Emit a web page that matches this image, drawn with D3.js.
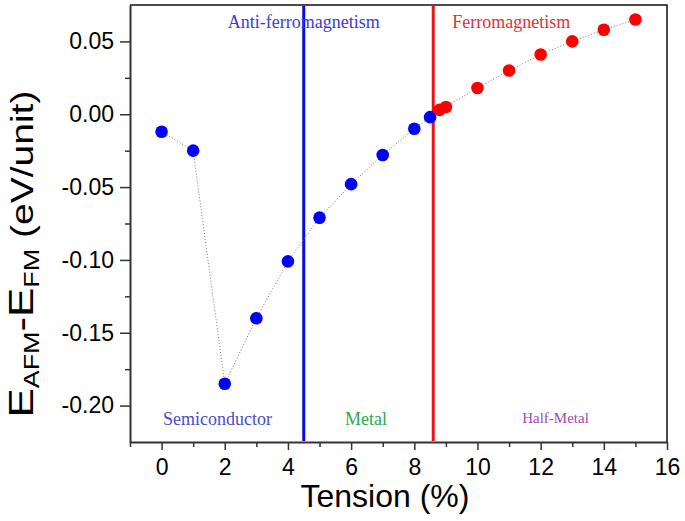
<!DOCTYPE html>
<html>
<head>
<meta charset="utf-8">
<script src="https://cdn.jsdelivr.net/npm/d3@7/dist/d3.min.js"></script>
<style>
  body { margin: 0; background: #fff; }
  svg { display: block; }
</style>
</head>
<body>
<svg id="chart" width="685" height="521"></svg>
<script>
// tension (%) and E_AFM - E_FM (eV/unit)
const afmTension = [0, 1, 2, 3, 4, 5, 6, 7, 8, 8.5];
const afmEnergy = [-0.012, -0.025, -0.185, -0.140, -0.101, -0.071, -0.048, -0.028, -0.010, -0.002];
const fmTension = [8.8, 9, 10, 11, 12, 13, 14, 15];
const fmEnergy = [0.003, 0.005, 0.018, 0.030, 0.041, 0.050, 0.058, 0.065];

// phase boundaries
const boundaries = [4.5, 8.6];

const xTicks = [0, 2, 4, 6, 8, 10, 12, 14, 16];
const yTicks = [-0.20, -0.15, -0.10, -0.05, 0.00, 0.05];

const width = 685;
const height = 521;
const margin = { top: 5, right: 18, bottom: 79, left: 130 };

const svg = d3.select('#chart');

const xScale = d3.scaleLinear()
  .domain([-1, 16])
  .range([margin.left, width - margin.right]);

const yScale = d3.scaleLinear()
  .domain([-0.225, 0.075])
  .range([height - margin.bottom, margin.top]);

const afm = afmTension.map((x, i) => ({ x, y: afmEnergy[i], color: '#0000ff' }));
const fm = fmTension.map((x, i) => ({ x, y: fmEnergy[i], color: '#ff0000' }));
const all = afm.concat(fm);

const fmt = (d) => d3.format('.2f')(d).replace('\u2212', '-');

// minor ticks
const xMinor = d3.range(-1, 16, 2);
const yMinor = d3.range(-0.175, 0.074, 0.05);

svg.append('g')
  .attr('transform', `translate(0,${height - margin.bottom})`)
  .call(d3.axisBottom(xScale).tickValues(xMinor).tickSize(5).tickFormat(''))
  .call((g) => g.select('.domain').remove())
  .call((g) => g.selectAll('line').attr('stroke', '#333').attr('stroke-width', 1.5));

svg.append('g')
  .attr('transform', `translate(${margin.left},0)`)
  .call(d3.axisLeft(yScale).tickValues(yMinor).tickSize(5).tickFormat(''))
  .call((g) => g.select('.domain').remove())
  .call((g) => g.selectAll('line').attr('stroke', '#333').attr('stroke-width', 1.5));

const xAxis = svg.append('g')
  .attr('transform', `translate(0,${height - margin.bottom})`)
  .call(d3.axisBottom(xScale).tickValues(xTicks).tickSize(8).tickPadding(9).tickSizeOuter(0));

const yAxis = svg.append('g')
  .attr('transform', `translate(${margin.left},0)`)
  .call(d3.axisLeft(yScale).tickValues(yTicks).tickFormat(fmt).tickSize(10).tickPadding(6).tickSizeOuter(0));

[xAxis, yAxis].forEach((g) => {
  g.select('.domain').attr('stroke', '#333').attr('stroke-width', 2);
  g.selectAll('line').attr('stroke', '#333').attr('stroke-width', 1.5);
  g.selectAll('text')
    .attr('fill', '#000')
    .style('font-family', 'Liberation Sans, Arial, sans-serif')
    .style('font-size', '23px');
});

// top and right frame
svg.append('path')
  .attr('d', `M${margin.left},${margin.top}H${width - margin.right}V${height - margin.bottom}`)
  .attr('fill', 'none')
  .attr('stroke', '#111')
  .attr('stroke-width', 1.5);

// phase boundary lines
svg.selectAll('line.boundary')
  .data(boundaries)
  .join('line')
  .attr('class', 'boundary')
  .attr('x1', (d) => xScale(d))
  .attr('x2', (d) => xScale(d))
  .attr('y1', margin.top + 1)
  .attr('y2', height - margin.bottom - 1)
  .attr('stroke', (d, i) => (i === 0 ? '#0a0ae6' : '#e8141c'))
  .attr('stroke-width', 3);

// dotted connecting line
const lineGenerator = d3.line()
  .x((d) => xScale(d.x))
  .y((d) => yScale(d.y));

svg.append('path')
  .datum(all)
  .attr('d', lineGenerator)
  .attr('fill', 'none')
  .attr('stroke', '#777')
  .attr('stroke-width', 1)
  .attr('stroke-dasharray', '1,2');

svg.selectAll('circle.dot')
  .data(all)
  .join('circle')
  .attr('class', 'dot')
  .attr('cx', (d) => xScale(d.x))
  .attr('cy', (d) => yScale(d.y))
  .attr('r', 6.3)
  .attr('fill', (d) => d.color);

// region annotations
const annotations = [
  { text: 'Anti-ferromagnetism', x: 4.5, dy: 23, color: '#3b3bd6', size: 18, top: true },
  { text: 'Ferromagnetism', x: 11.07, dy: 23, color: '#e0303a', size: 18, top: true },
  { text: 'Semiconductor', x: 1.77, dy: 17, color: '#4b4bcc', size: 18, top: false },
  { text: 'Metal', x: 6.47, dy: 17, color: '#2fa84f', size: 18, top: false },
  { text: 'Half-Metal', x: 12.47, dy: 19, color: '#a04aae', size: 15, top: false },
];

svg.selectAll('text.annot')
  .data(annotations)
  .join('text')
  .attr('class', 'annot')
  .attr('x', (d) => xScale(d.x))
  .attr('y', (d) => (d.top ? margin.top + d.dy : height - margin.bottom - d.dy))
  .attr('text-anchor', 'middle')
  .attr('fill', (d) => d.color)
  .style('font-family', 'Liberation Serif, Times New Roman, serif')
  .style('font-size', (d) => d.size + 'px')
  .text((d) => d.text);

// axis titles
svg.append('text')
  .attr('x', 385)
  .attr('y', 507)
  .attr('text-anchor', 'middle')
  .style('font-family', 'Liberation Sans, Arial, sans-serif')
  .style('font-size', '32px')
  .text('Tension (%)');

const yLabel = svg.append('text')
  .attr('transform', 'translate(33,254) rotate(-90) scale(1.22,1)')
  .attr('text-anchor', 'middle')
  .style('font-family', 'Liberation Sans, Arial, sans-serif')
  .style('font-size', '36px');

yLabel.append('tspan').text('E');
yLabel.append('tspan').attr('dy', 6).style('font-size', '22px').text('AFM');
yLabel.append('tspan').attr('dy', -6).text('-E');
yLabel.append('tspan').attr('dy', 6).style('font-size', '22px').text('FM');
yLabel.append('tspan').attr('dy', -6).style('font-size', '32px').text(' (eV/unit)');
</script>
</body>
</html>
